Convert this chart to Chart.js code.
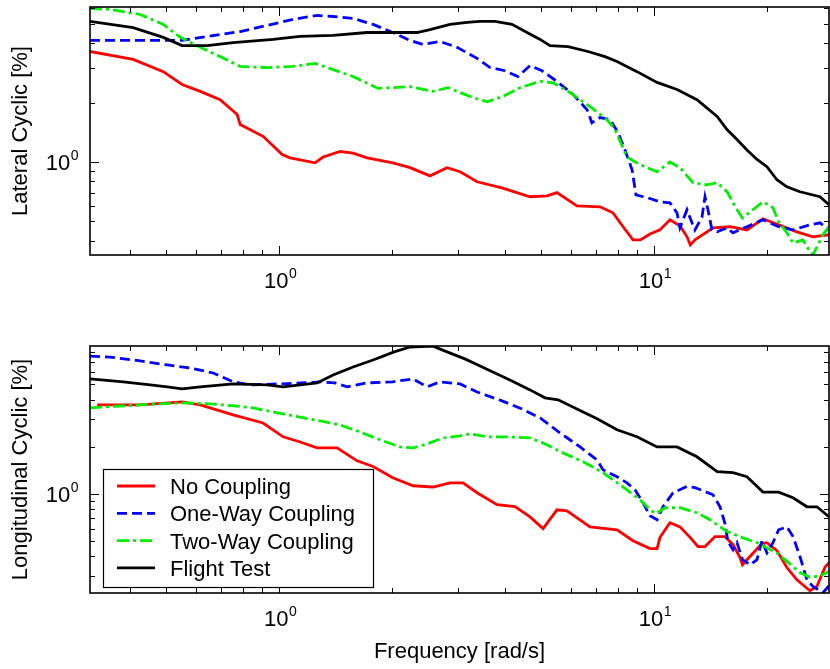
<!DOCTYPE html>
<html>
<head>
<meta charset="utf-8">
<script src="https://cdn.jsdelivr.net/npm/chart.js@4.4.1/dist/chart.umd.min.js"></script>
<style>
  body { margin: 0; background: #fff; }
  #wrap { position: relative; width: 830px; height: 669px; }
  canvas { position: absolute; left: 0; }
</style>
</head>
<body>
<div id="wrap">
  <canvas id="lateral" width="830" height="300" style="top:0"></canvas>
  <canvas id="longitudinal" width="830" height="369" style="top:300px"></canvas>
</div>
<script>
const seriesNames = ['No Coupling', 'One-Way Coupling', 'Two-Way Coupling', 'Flight Test'];

// axis limits and tick values (rad/s and %)
const freqMin = 0.313, freqMax = 29.3;
const latMin = 0.338, latMax = 6.1;
const lonMin = 0.234, lonMax = 8.8;
const freqTicks = [0.4, 0.5, 0.6, 0.7, 0.8, 0.9, 1, 2, 3, 4, 5, 6, 7, 8, 9, 10, 20];
const latTicks = [0.4, 0.5, 0.6, 0.7, 0.8, 0.9, 1, 2, 3, 4, 5, 6];
const lonTicks = [0.3, 0.4, 0.5, 0.6, 0.7, 0.8, 0.9, 1, 2, 3, 4, 5, 6, 7, 8];
const freqLabels = [1, 10];
const ampLabels = [1];

// Lateral cyclic
const latNoFreq = [0.313,0.408,0.491,0.551,0.616,0.696,0.773,0.787,0.906,1.019,1.07,1.247,1.31,1.455,1.575,1.717,2.01,2.236,2.527,2.805,3.04,3.373,3.93,4.67,5.185,5.51,6.23,7.18,7.77,8.27,8.79,9.2,9.76,10.37,11.03,11.73,12.25,12.5,12.86,14.37,15.95,17.7,19.53,21.5,24.06,26.55,29.29];
const latNoAmp = [3.63,3.31,2.87,2.47,2.28,2.07,1.74,1.55,1.35,1.09,1.05,0.99,1.06,1.13,1.11,1.05,0.99,0.936,0.851,0.936,0.893,0.794,0.74,0.667,0.674,0.7,0.6,0.593,0.553,0.47,0.403,0.403,0.432,0.453,0.51,0.475,0.418,0.38,0.403,0.464,0.47,0.453,0.516,0.481,0.443,0.418,0.428];

const latOneFreq = [0.313,0.551,0.643,0.787,0.929,1.09,1.263,1.393,1.575,1.781,2.01,2.236,2.42,2.688,2.984,3.373,3.653,4.005,4.338,4.67,5.027,5.51,6.08,6.63,6.83,7.18,7.63,8.02,8.37,8.74,8.95,9.64,10.37,11.03,11.52,11.73,12.25,12.63,12.86,13.43,13.68,13.93,14.28,14.74,15.66,16.25,17.7,19.53,21.5,23.49,26.06,27.72,29.29];
const latOneAmp = [4.13,4.13,4.33,4.58,4.92,5.28,5.53,5.46,5.34,4.98,4.53,4.13,3.94,4.08,3.81,3.35,3.01,2.9,2.71,3.08,2.9,2.56,2.2,1.84,1.58,1.68,1.64,1.41,1.15,0.914,0.682,0.658,0.628,0.621,0.552,0.464,0.573,0.492,0.453,0.527,0.667,0.573,0.453,0.443,0.464,0.438,0.47,0.51,0.47,0.453,0.481,0.492,0.453];

const latTwoFreq = [0.313,0.354,0.426,0.491,0.545,0.616,0.696,0.787,0.929,1.09,1.247,1.393,1.575,1.837,2.236,2.575,2.823,3.291,3.587,3.956,4.39,4.97,5.38,5.97,6.75,7.49,7.87,8.47,9.18,10.19,11.03,11.73,12.71,13.85,14.74,15.66,16.65,17.22,18.37,19.53,20.77,21.5,22.62,23.49,24.97,26.06,26.55,28.23,29.29];
const latTwoAmp = [6.0,5.93,5.59,4.98,4.28,3.81,3.42,3.05,3.01,3.05,3.16,2.94,2.71,2.36,2.41,2.28,2.38,2.12,2.02,2.15,2.38,2.56,2.52,2.25,1.91,1.64,1.46,1.06,0.969,0.893,1.0,0.936,0.785,0.767,0.785,0.707,0.573,0.521,0.573,0.628,0.587,0.498,0.438,0.389,0.403,0.351,0.338,0.428,0.47];

const latFlightFreq = [0.313,0.408,0.491,0.551,0.643,0.754,0.964,1.138,1.393,1.717,2.333,2.527,2.858,3.172,3.436,3.767,4.18,4.585,4.97,5.28,5.9,6.67,7.4,7.97,9.01,10.19,11.52,13.02,14.74,15.66,16.65,17.7,18.83,20.01,21.28,22.62,24.51,27.72,29.29];
const latFlightAmp = [5.16,4.79,4.28,3.89,3.89,4.03,4.18,4.33,4.38,4.53,4.53,4.69,4.98,5.1,5.16,5.16,4.98,4.53,4.18,3.89,3.84,3.63,3.42,3.23,2.87,2.53,2.33,2.07,1.7,1.46,1.3,1.15,1.03,0.947,0.813,0.749,0.707,0.667,0.607];

// Longitudinal cyclic
const lonNoFreq = [0.327,0.426,0.551,0.616,0.754,0.906,1.025,1.138,1.263,1.428,1.614,1.781,2.01,2.277,2.575,2.858,3.095,3.373,3.814,4.259,4.67,5.06,5.51,5.86,6.75,7.97,8.79,9.76,10.19,10.37,11.03,11.73,12.5,13.1,13.68,14.55,15.46,16.25,16.96,17.22,18.03,19.41,20.01,21.28,22.62,24.06,26.06,27.21,28.58,29.29];
const lonNoAmp = [3.71,3.71,3.87,3.71,3.2,2.84,2.32,2.15,1.97,1.97,1.63,1.5,1.27,1.13,1.11,1.18,1.18,1.02,0.855,0.831,0.716,0.602,0.794,0.782,0.618,0.592,0.504,0.449,0.449,0.528,0.656,0.618,0.528,0.463,0.463,0.536,0.536,0.476,0.394,0.354,0.4,0.483,0.49,0.436,0.34,0.284,0.242,0.258,0.342,0.365];

const lonOneFreq = [0.313,0.354,0.426,0.503,0.579,0.667,0.754,0.837,0.994,1.138,1.286,1.41,1.518,1.717,2.01,2.277,2.481,2.688,3.04,3.373,3.93,4.446,4.97,5.61,6.35,7.05,7.31,7.97,8.47,8.9,9.35,9.76,10.19,10.57,11.24,12.25,12.86,14.37,15.0,15.46,15.75,16.25,16.65,17.22,18.03,18.83,19.41,20.01,20.77,21.5,22.62,23.49,24.51,25.59,26.55,28.23,29.29];
const lonOneAmp = [7.59,7.48,7.07,6.66,6.37,5.92,5.2,4.97,5.04,5.12,5.2,5.12,4.83,5.12,5.2,5.43,4.83,5.2,5.04,4.48,3.93,3.49,3.06,2.46,2.0,1.65,1.43,1.29,1.18,1.065,0.88,0.727,0.686,0.83,1.02,1.12,1.1,0.99,0.83,0.65,0.498,0.442,0.49,0.382,0.354,0.382,0.505,0.422,0.49,0.592,0.618,0.536,0.4,0.284,0.258,0.235,0.26];

const lonTwoFreq = [0.313,0.426,0.551,0.643,0.754,0.852,0.988,1.09,1.286,1.455,1.644,1.859,2.102,2.277,2.481,2.738,3.04,3.231,3.587,4.055,4.67,5.06,5.72,6.47,7.31,8.27,9.18,9.76,10.12,10.7,11.73,13.02,14.1,15.66,17.22,18.83,20.01,21.28,22.62,24.51,26.06,27.72,29.29];
const lonTwoAmp = [3.55,3.71,3.82,3.77,3.66,3.55,3.3,3.16,2.93,2.76,2.49,2.22,2.0,1.97,2.09,2.28,2.35,2.42,2.32,2.32,2.28,2.12,1.83,1.61,1.37,1.11,0.92,0.794,0.75,0.818,0.818,0.76,0.686,0.577,0.528,0.49,0.454,0.421,0.372,0.316,0.295,0.3,0.321];

const lonFlightFreq = [0.313,0.384,0.453,0.503,0.551,0.616,0.754,0.929,1.025,1.138,1.263,1.393,1.575,1.781,2.027,2.236,2.575,2.805,3.13,3.436,3.814,4.18,4.67,5.12,5.55,6.23,7.05,7.97,9.01,10.19,11.52,13.02,14.74,16.25,17.7,19.53,21.5,23.49,25.59,27.21,29.29];
const lonFlightAmp = [5.43,5.2,4.97,4.83,4.69,4.83,5.04,4.97,4.83,4.97,5.12,5.75,6.47,7.17,8.07,8.67,8.78,8.07,7.28,6.57,5.84,5.27,4.62,4.11,3.99,3.49,3.02,2.57,2.32,2.0,2.0,1.73,1.39,1.37,1.29,1.03,1.03,0.947,0.83,0.83,0.717];

const FONT = '"Liberation Sans", Arial, Helvetica, sans-serif';
const lineColors = ['#ff0000', '#0000ff', '#00ee00', '#000000'];
const lineDashes = [[], [10, 5], [12, 4, 3, 4], []];

Chart.defaults.font.family = FONT;
Chart.defaults.color = '#000';

function pairs(fs, vs) {
  return fs.map((f, i) => ({ x: f, y: vs[i] }));
}

function makeDatasets(series) {
  return series.map((s, i) => ({
    label: seriesNames[i],
    data: pairs(s[0], s[1]),
    borderColor: lineColors[i],
    borderDash: lineDashes[i],
    borderWidth: 2.8,
    pointRadius: 0,
    tension: 0,
    order: 3 - i
  }));
}

function powerLabel(ctx, exp, x, y, align) {
  ctx.font = '22px ' + FONT;
  const w1 = ctx.measureText('10').width;
  ctx.font = '14px ' + FONT;
  const w2 = ctx.measureText(exp).width;
  const left = align === 'center' ? x - (w1 + w2) / 2 : x - w1 - w2;
  ctx.textAlign = 'left';
  ctx.textBaseline = 'alphabetic';
  ctx.font = '22px ' + FONT;
  ctx.fillText('10', left, y);
  ctx.font = '14px ' + FONT;
  ctx.fillText(exp, left + w1 + 0.5, y - 10);
}

// box, inward tick marks and 10^n labels like the original figure
const frame = {
  id: 'frame',
  afterDatasetsDraw(chart, args, opts) {
    const { ctx, chartArea: a, scales: { x, y } } = chart;
    ctx.save();
    ctx.strokeStyle = '#000';
    ctx.lineWidth = 1;
    ctx.beginPath();
    freqTicks.forEach(v => {
      const px = Math.round(x.getPixelForValue(v)) + 0.5;
      const len = freqLabels.includes(v) ? 9 : 5;
      ctx.moveTo(px, a.bottom); ctx.lineTo(px, a.bottom - len);
      ctx.moveTo(px, a.top); ctx.lineTo(px, a.top + len);
    });
    opts.yTicks.forEach(v => {
      const py = Math.round(y.getPixelForValue(v)) + 0.5;
      const len = ampLabels.includes(v) ? 9 : 5;
      ctx.moveTo(a.left, py); ctx.lineTo(a.left + len, py);
      ctx.moveTo(a.right, py); ctx.lineTo(a.right - len, py);
    });
    ctx.stroke();
    ctx.lineWidth = 1.6;
    ctx.strokeRect(a.left, a.top, a.right - a.left, a.bottom - a.top);
    ctx.fillStyle = '#000';
    freqLabels.forEach(v => {
      powerLabel(ctx, String(Math.round(Math.log10(v))), x.getPixelForValue(v) + 1, a.bottom + 33, 'center');
    });
    ampLabels.forEach(v => {
      powerLabel(ctx, String(Math.round(Math.log10(v))), a.left - 12, y.getPixelForValue(v) + 8, 'right');
    });
    ctx.restore();
  }
};

const legendBox = {
  id: 'legendBox',
  afterDraw(chart) {
    const { ctx, chartArea: a } = chart;
    const w = 270, h = 118;
    const x0 = a.left + 13, y0 = a.bottom - 6 - h;
    ctx.save();
    ctx.fillStyle = '#fff';
    ctx.fillRect(x0, y0, w, h);
    ctx.strokeStyle = '#000';
    ctx.lineWidth = 1.2;
    ctx.strokeRect(x0 + 0.5, y0 + 0.5, w, h);
    chart.data.datasets.forEach((ds, i) => {
      const cy = y0 + 17 + i * 27.3;
      ctx.strokeStyle = ds.borderColor;
      ctx.lineWidth = ds.borderWidth;
      ctx.setLineDash(ds.borderDash);
      ctx.beginPath();
      ctx.moveTo(x0 + 14, cy);
      ctx.lineTo(x0 + 52, cy);
      ctx.stroke();
      ctx.setLineDash([]);
      ctx.fillStyle = '#000';
      ctx.font = '22px ' + FONT;
      ctx.textBaseline = 'alphabetic';
      ctx.fillText(ds.label, x0 + 67, cy + 8);
    });
    ctx.restore();
  }
};

function makeChart(id, series, yMin, yMax, yTicks, yTitle, xTitle, pad, xHeight, extra) {
  return new Chart(document.getElementById(id), {
    type: 'line',
    data: { datasets: makeDatasets(series) },
    options: {
      responsive: false,
      animation: false,
      layout: { padding: pad },
      plugins: { legend: { display: false }, tooltip: { enabled: false }, frame: { yTicks: yTicks } },
      scales: {
        x: {
          type: 'logarithmic', min: freqMin, max: freqMax, bounds: 'data',
          grid: { display: false }, border: { display: false },
          ticks: { display: false },
          title: { display: !!xTitle, text: xTitle, font: { size: 22 }, padding: { top: 4, bottom: 4 } },
          afterFit: s => { s.height = xHeight; }
        },
        y: {
          type: 'logarithmic', min: yMin, max: yMax, bounds: 'data',
          grid: { display: false }, border: { display: false },
          ticks: { display: false },
          title: { display: true, text: yTitle, font: { size: 22 }, padding: { top: 8, bottom: 4 } },
          afterFit: s => { s.width = 90; }
        }
      }
    },
    plugins: [frame].concat(extra)
  });
}

makeChart('lateral', [
  [latNoFreq, latNoAmp], [latOneFreq, latOneAmp], [latTwoFreq, latTwoAmp], [latFlightFreq, latFlightAmp]
], latMin, latMax, latTicks, 'Lateral Cyclic [%]', '', { top: 7, right: 1, left: 0, bottom: 0 }, 45, []);

makeChart('longitudinal', [
  [lonNoFreq, lonNoAmp], [lonOneFreq, lonOneAmp], [lonTwoFreq, lonTwoAmp], [lonFlightFreq, lonFlightAmp]
], lonMin, lonMax, lonTicks, 'Longitudinal Cyclic [%]', 'Frequency [rad/s]', { top: 46, right: 1, left: 0, bottom: 0 }, 76, [legendBox]);
</script>
</body>
</html>
